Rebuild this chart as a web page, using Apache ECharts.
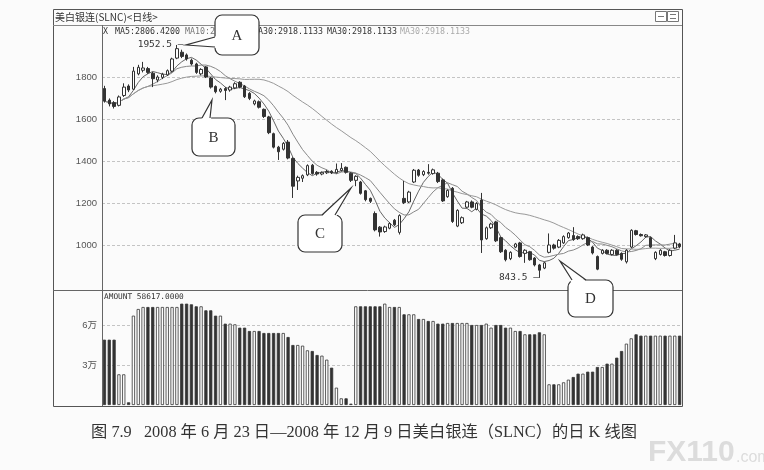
<!DOCTYPE html>
<html><head><meta charset="utf-8">
<script src="https://cdn.jsdelivr.net/npm/echarts@6/dist/echarts.min.js"></script>
<style>html,body{margin:0;padding:0;background:#fbfbfb}#c{width:764px;height:470px}</style>
</head><body><div id="c"></div>
<script>
// ---- data ----
const opens = [
1745,1690,1678,1665,1712,1757,1742,1815,1832,1840,
1818,1786,1798,1810,1828,1890,1918,1905,1880,1862,
1815,1848,1795,1755,1732,1745,1738,1748,1775,1757,
1722,1672,1682,1646,1610,1530,1466,1456,1490,1412,
1305,1318,1334,1380,1346,1338,1344,1351,1344,1355,
1370,1342,1308,1300,1258,1222,1150,1085,1064,1080,
1118,1060,1222,1205,1300,1357,1335,1346,1340,1342,
1310,1230,1270,1090,1106,1180,1205,1170,1214,1030,
1082,1110,1035,975,935,990,1010,960,968,938,
905,890,965,1000,990,1010,1035,1045,1040,1030,
1035,990,945,960,975,955,975,960,920,990,
1068,1050,1040,1035,935,955,968,950,985,1005];
const closes = [
1685,1672,1660,1705,1752,1738,1828,1846,1843,1822,
1792,1800,1813,1830,1886,1935,1898,1886,1862,1822,
1836,1800,1752,1730,1742,1736,1752,1768,1752,1706,
1698,1686,1656,1612,1535,1466,1444,1484,1414,1280,
1322,1330,1378,1340,1338,1346,1350,1344,1360,1365,
1346,1308,1327,1246,1216,1208,1072,1062,1086,1102,
1096,1140,1202,1252,1356,1332,1350,1342,1358,1302,
1210,1260,1112,1165,1130,1205,1180,1198,1024,1082,
1100,1020,968,930,965,1005,945,975,930,905,
880,915,1000,985,1022,1040,1057,1026,1030,1048,
1000,962,885,975,960,975,955,932,975,1070,
1050,1044,1048,990,965,975,950,975,1010,992];
const lows = [
1678,1660,1650,1660,1705,1728,1738,1808,1822,1815,
1752,1775,1790,1805,1822,1885,1890,1878,1855,1815,
1808,1795,1745,1722,1725,1690,1730,1742,1746,1700,
1690,1665,1650,1605,1528,1460,1405,1450,1408,1224,
1262,1300,1328,1335,1330,1332,1338,1338,1340,1350,
1340,1300,1280,1240,1208,1200,1065,1040,1058,1075,
1090,1050,1195,1200,1295,1325,1328,1335,1335,1295,
1205,1225,1105,1085,1100,1175,1175,1165,962,1025,
1076,1014,962,922,928,985,940,915,925,898,
843.5,885,960,978,985,1005,1030,1020,1024,1025,
995,955,880,955,955,950,950,925,912,985,
1045,1040,1035,985,928,950,945,945,980,985];
const highs = [
1758,1698,1685,1712,1770,1765,1848,1858,1872,1848,
1825,1808,1820,1836,1892,1952.5,1930,1912,1888,1868,
1842,1852,1800,1760,1748,1752,1758,1775,1780,1762,
1728,1692,1688,1650,1615,1535,1472,1490,1500,1418,
1330,1336,1384,1386,1352,1350,1358,1356,1388,1390,
1374,1346,1332,1305,1262,1226,1160,1090,1092,1108,
1124,1146,1305,1258,1362,1362,1356,1385,1364,1348,
1316,1265,1276,1170,1136,1210,1212,1204,1248,1088,
1106,1115,1040,980,970,1010,1015,980,972,942,
910,920,1055,1006,1028,1046,1062,1085,1046,1054,
1040,995,950,980,980,980,980,965,980,1075,
1072,1055,1052,1040,970,980,972,980,1048,1010];
const volumes = [
49000,49000,49000,23000,23000,2000,67000,72000,73500,73500,
73500,73500,73500,73500,73500,73500,76000,76000,75500,74000,
74000,71000,71000,67000,67000,61000,61000,60500,58000,58000,
55500,55500,55500,54000,54000,54000,54000,54000,51000,45000,
45000,44500,41000,40500,37500,37000,34000,28000,13000,5000,
5000,1000,74000,74000,74000,74000,74000,74000,76000,73500,
73500,73500,68000,68000,68000,64500,64500,63000,63000,61000,
61000,61500,61500,61500,61500,61500,60000,60000,60000,61000,
58000,60000,60000,58000,58000,55500,55500,53000,53000,53000,
54500,53000,15500,15500,15500,17000,19000,21000,23500,23500,
25000,25000,28500,28500,31000,31000,35500,40500,46000,50000,
53000,52000,52000,52000,52000,52000,52000,52000,52000,52000];
const priceTickLabels = ['1000','1200','1400','1600','1800'];
const volumeTickLabels = {30000:'3万', 60000:'6万'};
const titleText = '美白银连(SLNC)<日线>';
const legendTexts = ['X', 'MA5:2806.4200', 'MA10:2806.4200', 'MA30:2918.1133', 'MA30:2918.1133', 'MA30:2918.1133'];
const amountText = 'AMOUNT 58617.0000';
const captionText = '图 7.9   2008 年 6 月 23 日—2008 年 12 月 9 日美白银连（SLNC）的日 K 线图';

// ---- derived ----
const categories = closes.map((_, i) => String(i + 1));
function ma(n) {
  return closes.map((_, i) => {
    const s = Math.max(0, i - n + 1); let sum = 0;
    for (let k = s; k <= i; k++) sum += closes[k];
    return +(sum / (i - s + 1)).toFixed(2);
  });
}
const candle = opens.map((o, i) => [o, closes[i], lows[i], highs[i]]);
const volData = volumes.map((v, i) => ({value: v, itemStyle: {color: closes[i] >= opens[i] ? '#fff' : '#333'}}));

const INK = '#333';
function txt(x, y, text, font, fill, align, extra) {
  return Object.assign({type: 'text', z: 50, style: {x, y, text, font, fill, align: align || 'left', verticalAlign: 'middle'}}, extra || {});
}
function callout(rx, ry, w, h, b1, tip, b2, cover1, cover2, letter) {
  return [
    {type: 'rect', z: 100, shape: {x: rx, y: ry, width: w, height: h, r: 7}, style: {fill: '#fff', stroke: INK, lineWidth: 1.2}},
    {type: 'polygon', z: 101, shape: {points: [cover1, tip, cover2]}, style: {fill: '#fff', stroke: null}},
    {type: 'polyline', z: 102, shape: {points: [b1, tip, b2]}, style: {fill: null, stroke: INK, lineWidth: 1.2}},
    {type: 'text', z: 103, style: {x: rx + w / 2, y: ry + h / 2 + 1, text: letter, font: '15px "Liberation Serif"', fill: INK, align: 'center', verticalAlign: 'middle'}}
  ];
}
const monoFont = '8.3px "DejaVu Sans Mono"';
const graphics = [
  {type: 'rect', z: 40, shape: {x: 53.5, y: 9.5, width: 629, height: 397}, style: {fill: 'none', stroke: '#555', lineWidth: 1}},
  {type: 'line', z: 40, shape: {x1: 53, y1: 25.5, x2: 682, y2: 25.5}, style: {stroke: '#888', lineWidth: 1}},
  {type: 'line', z: 40, shape: {x1: 102.5, y1: 25, x2: 102.5, y2: 406}, style: {stroke: '#666', lineWidth: 1}},
  {type: 'line', z: 40, shape: {x1: 53, y1: 290.5, x2: 682, y2: 290.5}, style: {stroke: '#666', lineWidth: 1}},
  {type: 'rect', z: 40, shape: {x: 655.5, y: 11.5, width: 11, height: 10}, style: {fill: '#fff', stroke: '#777', lineWidth: 1}},
  {type: 'rect', z: 40, shape: {x: 667.5, y: 11.5, width: 11, height: 10}, style: {fill: '#fff', stroke: '#777', lineWidth: 1}},
  {type: 'line', z: 41, shape: {x1: 658, y1: 16.5, x2: 664, y2: 16.5}, style: {stroke: '#777', lineWidth: 1}},
  {type: 'line', z: 41, shape: {x1: 670, y1: 14.5, x2: 676, y2: 14.5}, style: {stroke: '#777', lineWidth: 1}},
  {type: 'line', z: 41, shape: {x1: 670, y1: 18.5, x2: 676, y2: 18.5}, style: {stroke: '#777', lineWidth: 1}},
  txt(55, 17, titleText, '10px "Noto Sans CJK SC"', INK),
  txt(103, 32, legendTexts[0], monoFont, INK),
  txt(115, 32, legendTexts[1], monoFont, INK),
  txt(185, 32, legendTexts[2], monoFont, '#777'),
  txt(253, 32, legendTexts[3], monoFont, INK),
  txt(327, 32, legendTexts[4], monoFont, INK),
  txt(400, 32, legendTexts[5], monoFont, '#aaa'),
  txt(104, 297, amountText, '7.8px "DejaVu Sans Mono"', INK),
  txt(364, 433, captionText, '16.3px "Liberation Serif", "Noto Sans CJK SC"', '#333', 'center'),
  txt(648, 453, 'FX110', 'bold 30px "Liberation Sans"', '#dcdcdc'),
  txt(736, 458, '.com', '16px "Liberation Sans"', '#dcdcdc')
].concat(
  callout(215, 15, 44, 40, [215, 37], [186, 45], [215, 47], [217, 36], [217, 48], 'A'),
  callout(192, 118, 43, 38, [202, 118], [212, 100], [210, 118], [201, 120], [211, 120], 'B'),
  callout(298, 215, 44, 37, [322, 215], [351, 188], [335, 215], [321, 217], [336, 217], 'C'),
  callout(568, 280, 45, 37, [572, 280], [560, 261], [586, 280], [571, 282], [587, 282], 'D')
);

const chart = echarts.init(document.getElementById('c'));
chart.setOption({
  animation: false,
  backgroundColor: '#fbfbfb',
  grid: [
    {left: 102, right: 82, top: 35, height: 252},
    {left: 102, right: 82, top: 285, height: 120}
  ],
  xAxis: [
    {type: 'category', gridIndex: 0, data: categories, boundaryGap: true, axisLine: {show: false}, axisTick: {show: false}, axisLabel: {show: false}, splitLine: {show: false}},
    {type: 'category', gridIndex: 1, data: categories, boundaryGap: true, axisLine: {show: false}, axisTick: {show: false}, axisLabel: {show: false}, splitLine: {show: false}}
  ],
  yAxis: [
    {type: 'value', gridIndex: 0, min: 800, max: 2000, interval: 200, axisLine: {show: false}, axisTick: {show: false},
     axisLabel: {margin: 5, color: '#555', fontSize: 9.5, fontFamily: 'Liberation Sans', showMinLabel: false, showMaxLabel: false,
       formatter: v => priceTickLabels.indexOf(String(v)) >= 0 ? String(v) : ''},
     splitLine: {show: true, showMinLine: false, showMaxLine: false, lineStyle: {color: '#c4c4c4', type: [3, 2], width: 1}}},
    {type: 'value', gridIndex: 1, min: 0, max: 90000, interval: 30000, axisLine: {show: false}, axisTick: {show: false},
     axisLabel: {margin: 5, color: '#555', fontSize: 9.5, fontFamily: 'Liberation Sans, Noto Sans CJK SC',
       formatter: v => volumeTickLabels[v] || ''},
     splitLine: {show: true, showMinLine: false, showMaxLine: false, lineStyle: {color: '#c4c4c4', type: [3, 2], width: 1}}}
  ],
  series: [
    {type: 'candlestick', xAxisIndex: 0, yAxisIndex: 0, data: candle, barWidth: 3,
     itemStyle: {color: '#fff', color0: INK, borderColor: INK, borderColor0: INK, borderWidth: 1},
     markPoint: {
       symbol: 'circle', symbolSize: 1, itemStyle: {color: 'rgba(0,0,0,0)'},
       label: {show: true, position: 'left', distance: 0, color: INK, fontSize: 9.5, fontFamily: 'DejaVu Sans Mono',
               formatter: p => p.value + ' —'},
       data: [
         {type: 'max', valueDim: 'highest', label: {offset: [7, 0]}},
         {type: 'min', valueDim: 'lowest', label: {offset: [0, 0]}}
       ]
     }},
    {type: 'line', name: 'MA5', xAxisIndex: 0, yAxisIndex: 0, data: ma(5), symbol: 'none', lineStyle: {color: '#666', width: 1}, z: 1},
    {type: 'line', name: 'MA10', xAxisIndex: 0, yAxisIndex: 0, data: ma(10), symbol: 'none', lineStyle: {color: '#888', width: 1}, z: 1},
    {type: 'line', name: 'MA30', xAxisIndex: 0, yAxisIndex: 0, data: ma(30), symbol: 'none', lineStyle: {color: '#999', width: 1}, z: 1},
    {type: 'bar', xAxisIndex: 1, yAxisIndex: 1, data: volData, barWidth: 3.2,
     itemStyle: {borderColor: INK, borderWidth: 0.8}}
  ],
  graphic: graphics
});
</script></body></html>
